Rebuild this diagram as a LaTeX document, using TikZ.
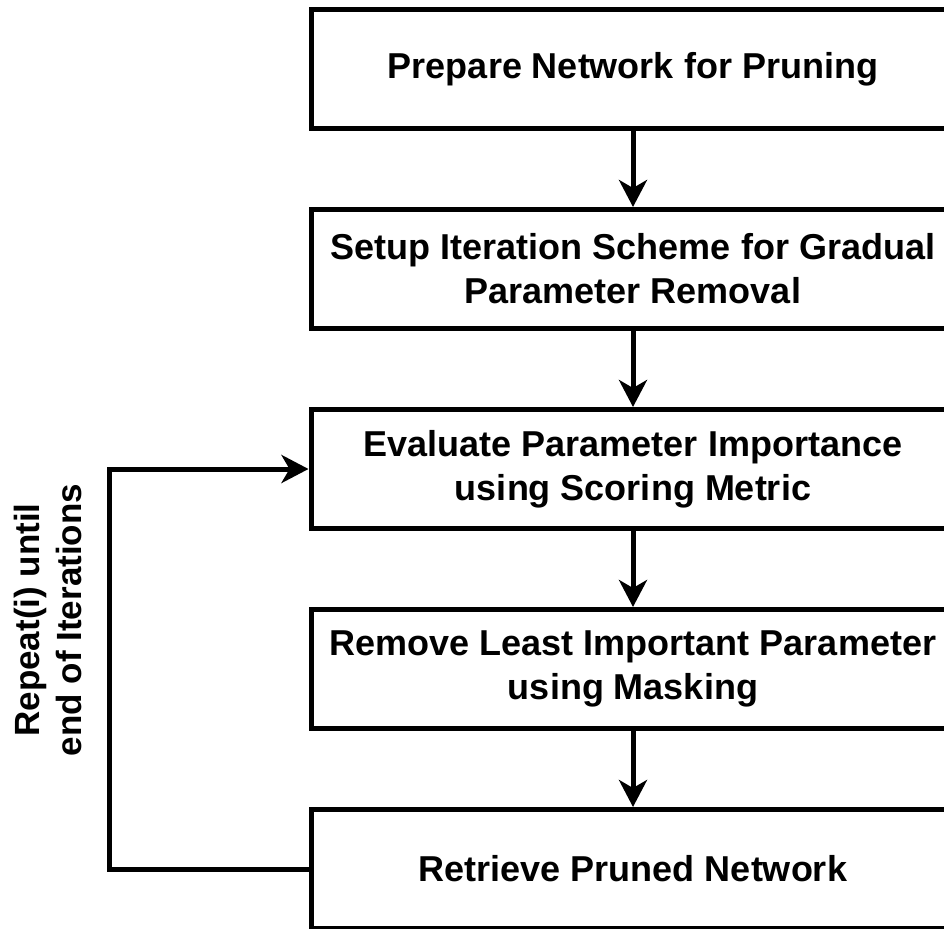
\documentclass[tikz,border=0pt]{standalone}
\usepackage{fontspec}
\setmainfont{Liberation Sans}
\usetikzlibrary{arrows.meta, positioning}

\begin{document}
\begin{tikzpicture}[
            x=1pt, y=1pt,
            box/.style={draw=black, line width=5pt, minimum width=644pt, minimum height=119pt, align=center, font=\fontsize{36}{44}\selectfont\bfseries},
            arrow/.style={-{Stealth[length=27pt, width=28pt, inset=8pt]}, line width=5pt, black}
        ]
            \useasboundingbox (0,0) rectangle (944,-928);

            \node[box] (prepare) at (633,-69) {Prepare Network for Pruning};
            \node[box, below=76pt of prepare] (setup) {Setup Iteration Scheme for Gradual\\Parameter Removal};
            \node[box, below=76pt of setup] (evaluate) {Evaluate Parameter Importance\\using Scoring Metric};
            \node[box, below=76pt of evaluate] (remove) {Remove Least Important Parameter\\using Masking};
            \node[box, below=76pt of remove] (retrieve) {Retrieve Pruned Network};

            \node[rotate=90, align=center, font=\fontsize{35}{42}\selectfont\bfseries] (repeat) at (48,-620) {Repeat(i) until\\end of Iterations};
            \coordinate (loopx) at (109,0);

            \draw[arrow] (prepare) -- (setup);
            \draw[arrow] (setup) -- (evaluate);
            \draw[arrow] (evaluate) -- (remove);
            \draw[arrow] (remove) -- (retrieve);
            \draw[arrow] (retrieve.west) -- (retrieve.west -| loopx) |- (evaluate.west);
        \end{tikzpicture}
\end{document}
